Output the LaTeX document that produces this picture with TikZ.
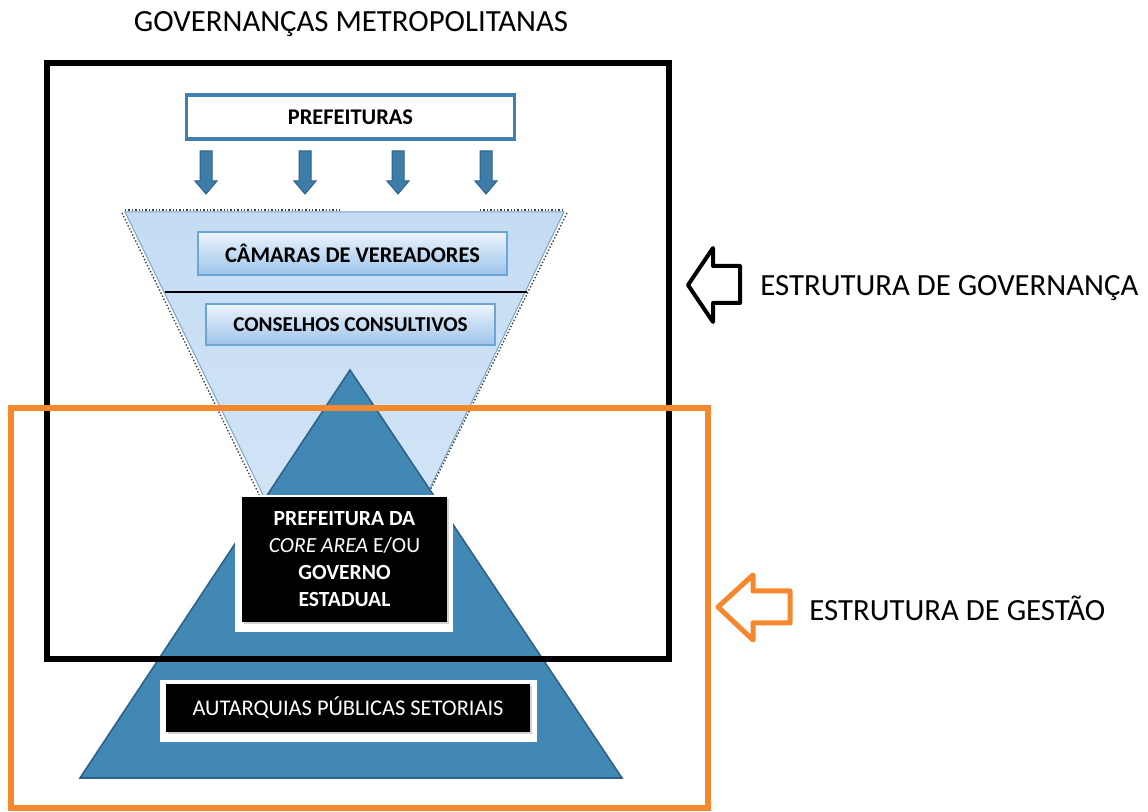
\documentclass[tikz,border=0pt]{standalone}
\usepackage{fontspec}
\setmainfont{Carlito}
\usetikzlibrary{shadows}
\definecolor{pyrblue}{RGB}{66,136,181}
\definecolor{pyredge}{RGB}{46,98,138}
\definecolor{funtop}{RGB}{196,220,243}
\definecolor{funbot}{RGB}{218,233,248}
\definecolor{arrblue}{RGB}{62,124,170}
\definecolor{arredge}{RGB}{44,96,136}
\definecolor{prefedge}{RGB}{62,128,176}
\definecolor{orng}{RGB}{245,135,45}
\definecolor{gtop}{RGB}{236,244,252}
\definecolor{gbot}{RGB}{158,196,234}
\definecolor{gedge}{RGB}{110,165,215}
\tikzset{
  gradbox/.style={draw=gedge, line width=0.6pt, top color=gtop, bottom color=gbot, inner sep=0pt, font=\bfseries\fontsize{11.2}{13}\selectfont},
  blackbox/.style={fill=black, inner sep=0pt, text=white, align=center, drop shadow={opacity=0.35, shadow xshift=1pt, shadow yshift=-1pt}},
  whiteframe/.style={fill=white, inner sep=0pt},
  downarrow/.style={fill=arrblue, draw=arredge, line width=0.5pt},
  lbl/.style={font=\fontsize{15.4}{18}\selectfont, inner sep=0pt},
}
\begin{document}
\begin{tikzpicture}[x=0.5pt,y=-0.5pt]
\useasboundingbox (0,0) rectangle (1148,812);
% funnel
\shade[top color=funtop, bottom color=funbot] (125,212) -- (564,212) -- (345,663) -- cycle;
\draw[prefedge!70, line width=0.5pt] (125,212) -- (564,212) -- (345,663) -- cycle;
\draw[black!75, densely dotted, line width=0.7pt] (122,213) -- (343,667) -- (567,213);
\draw[black!75, densely dotted, line width=0.7pt] (125,210) -- (340,210);
\draw[black!75, densely dotted, line width=0.7pt] (480,210) -- (564,210);
% separator
\coordinate (sepL) at (165,292);
\coordinate (sepR) at (527,292);
\draw[black, line width=1.4pt] (sepL) -- (sepR);
% funnel boxes
\node[gradbox, minimum width=154.5pt, minimum height=21.5pt] (cam) at (352.5,253.5) {CÂMARAS DE VEREADORES};
\node[gradbox, minimum width=144.5pt, minimum height=20.5pt, font=\bfseries\fontsize{10.6}{13}\selectfont] (cons) at (350.5,324.5) {CONSELHOS CONSULTIVOS};
% pyramid
\filldraw[fill=pyrblue, draw=pyredge, line width=0.8pt] (350,370) -- (622,778) -- (80,778) -- cycle;
% core box
\node[whiteframe, minimum width=109pt, minimum height=68.5pt] (coreframe) at (344,563.5) {};
\node[blackbox, minimum width=102.5pt, minimum height=62.5pt, font=\bfseries\fontsize{10.8}{13.5}\selectfont] (core) at (344.5,559.5)
  {PREFEITURA DA\\{\mdseries\itshape CORE AREA} {\mdseries E/OU}\\GOVERNO\\ESTADUAL};
% autarquias box
\node[whiteframe, minimum width=188.5pt, minimum height=31pt] (autframe) at (348.5,711) {};
\node[blackbox, minimum width=182pt, minimum height=24pt, font=\fontsize{11.2}{13}\selectfont] (aut) at (348,708) {AUTARQUIAS PÚBLICAS SETORIAIS};
% prefeituras
\node[draw=prefedge, line width=1.6pt, fill=white, minimum width=164pt, minimum height=22pt, inner sep=0pt, font=\bfseries\fontsize{11.2}{13}\selectfont] (pref) at (350.5,117) {PREFEITURAS};
% down arrows
\foreach \cx in {206,305,398,486}{
  \filldraw[downarrow] (\cx-6,151) -- (\cx+6,151) -- (\cx+6,181) -- (\cx+11,181) -- (\cx,194) -- (\cx-11,181) -- (\cx-6,181) -- cycle;
}
% frames
\draw[black, line width=3pt] (47,63) rectangle (669,659);
\draw[orng, line width=2.6pt] (11,408) rectangle (708,808);
% right arrows
\draw[black, line width=2pt, line join=round] (688,285) -- (713,248) -- (713,266) -- (740,266) -- (740,303) -- (713,303) -- (713,322) -- cycle;
\draw[orng, line width=2.5pt, line join=round] (718,607) -- (753,575) -- (753,591) -- (790,591) -- (790,623) -- (753,623) -- (753,640) -- cycle;
% labels
\node[lbl, anchor=base west] (gov) at (760,296) {ESTRUTURA DE GOVERNANÇA};
\node[lbl, anchor=base west] (ges) at (809,621) {ESTRUTURA DE GESTÃO};
\node[lbl, anchor=base] (title) at (351,32) {GOVERNANÇAS METROPOLITANAS};
\end{tikzpicture}
\end{document}
